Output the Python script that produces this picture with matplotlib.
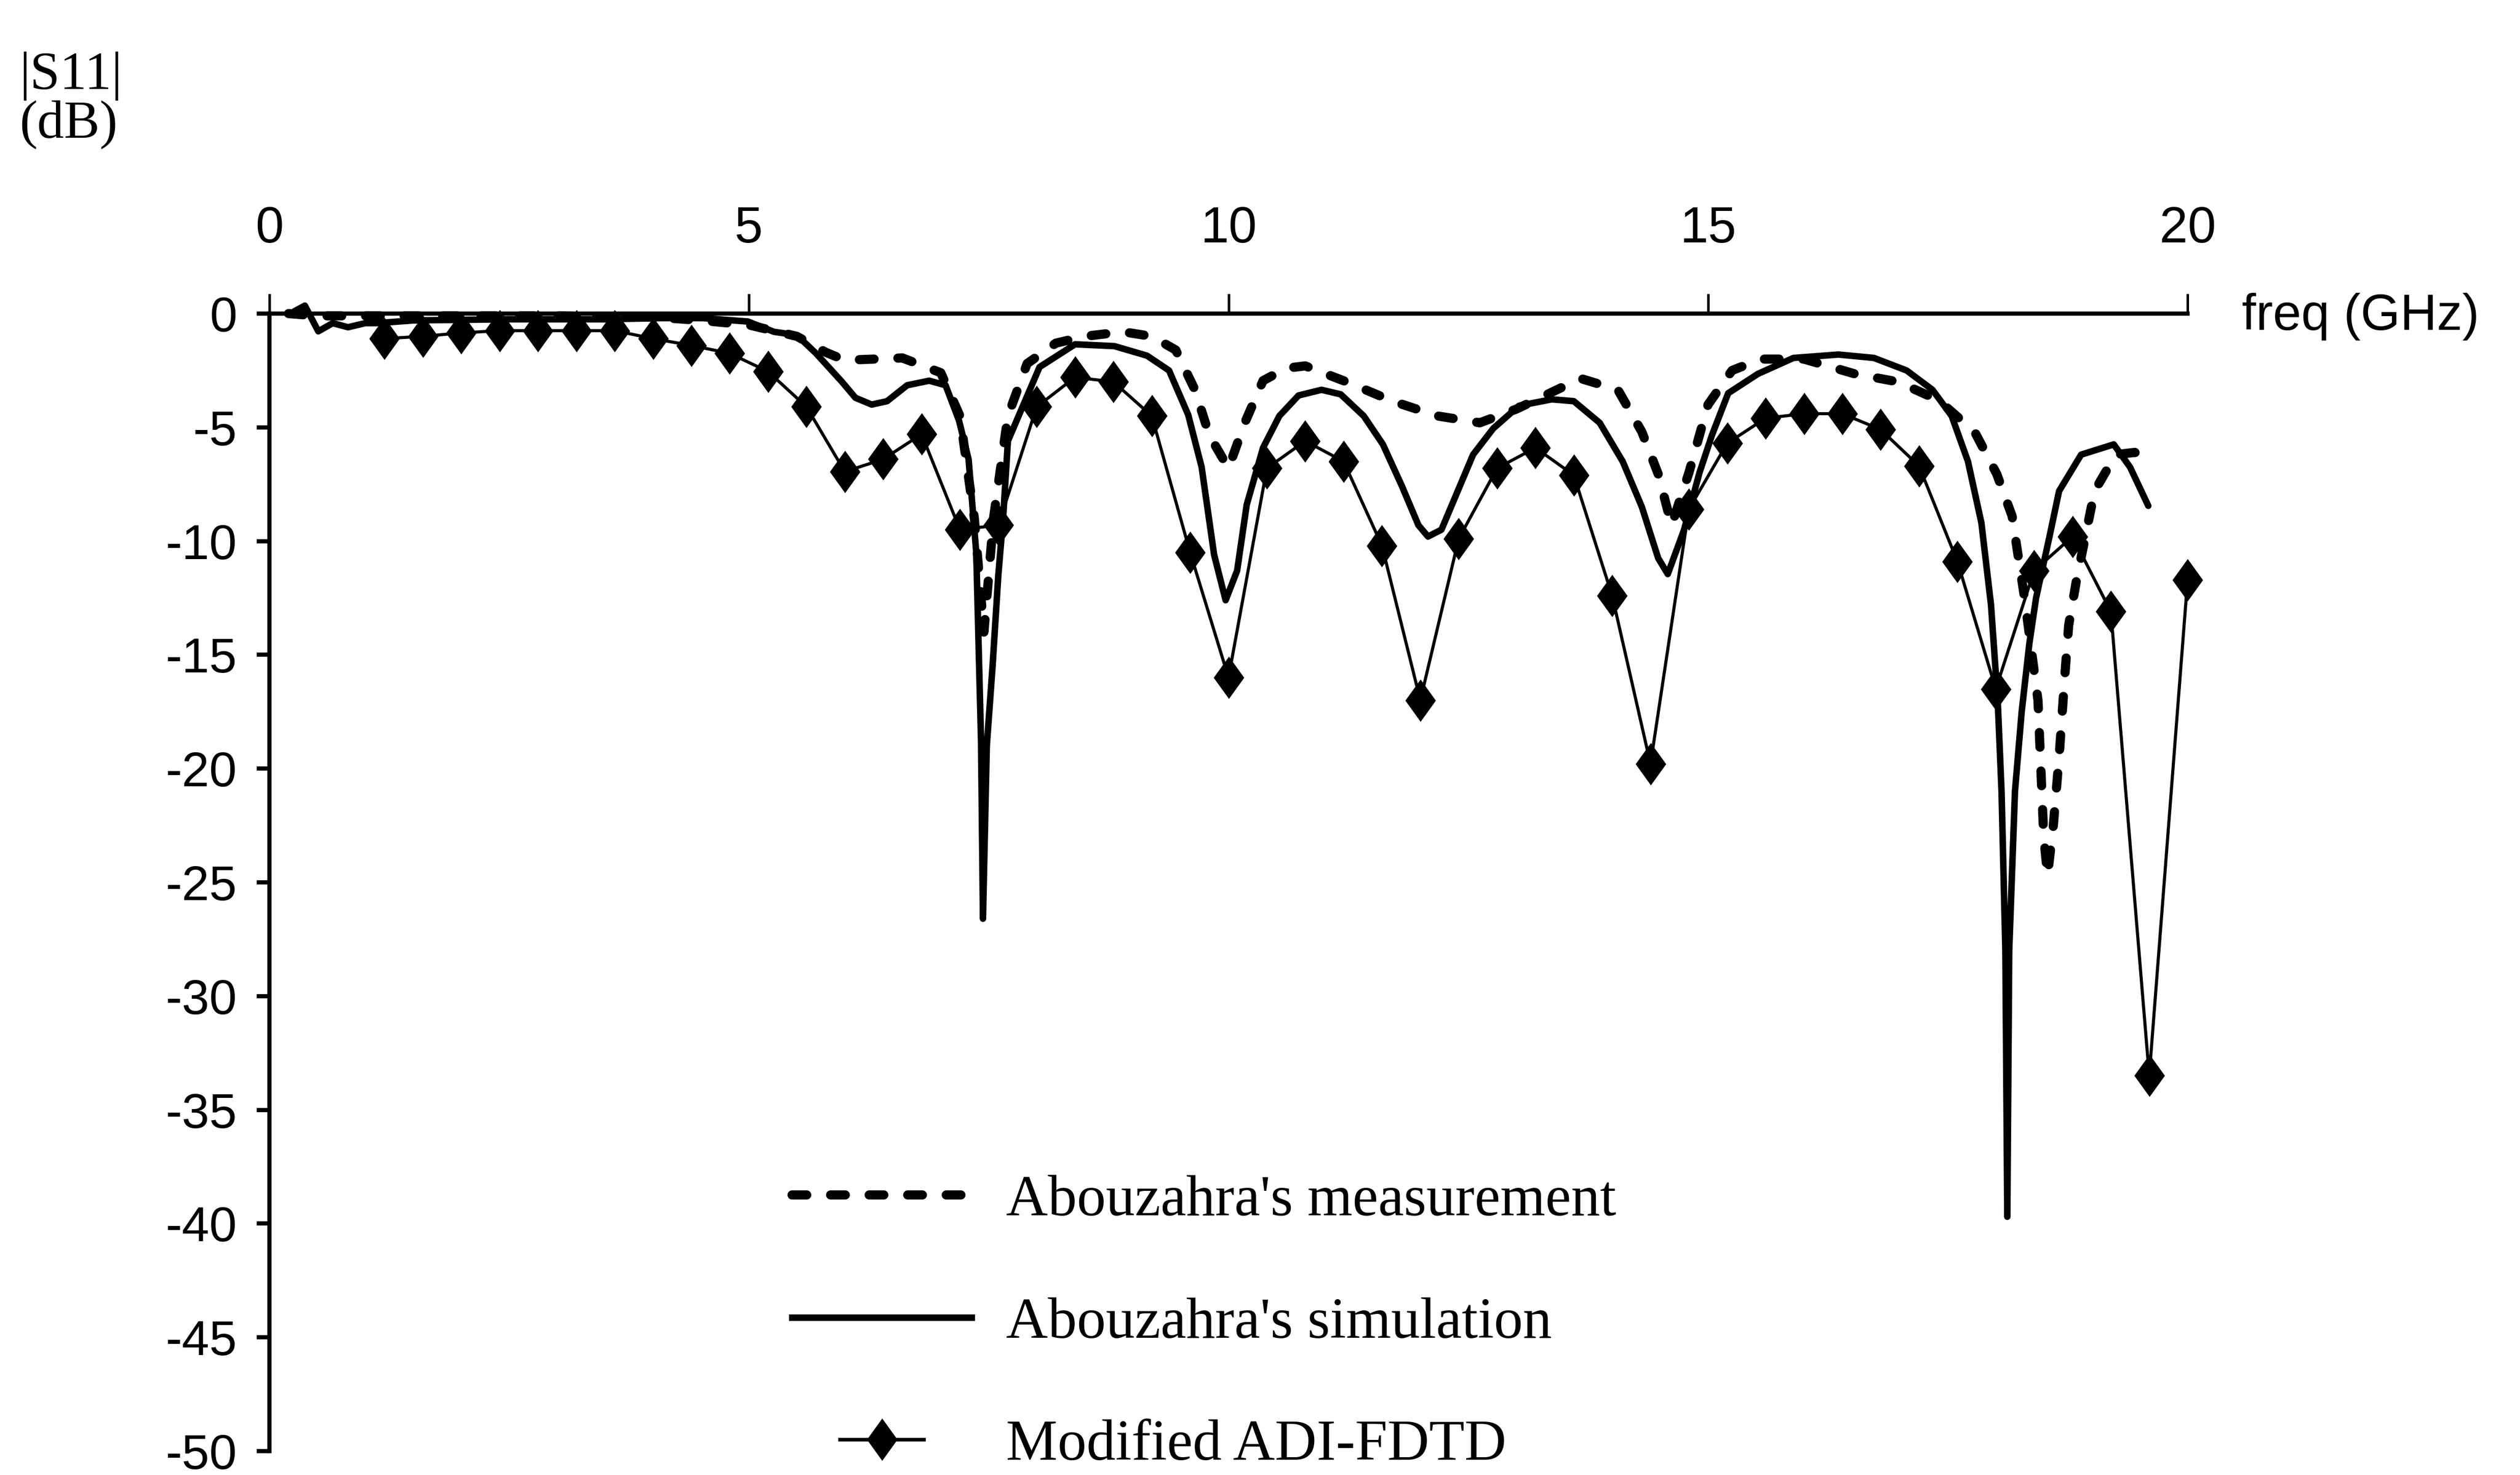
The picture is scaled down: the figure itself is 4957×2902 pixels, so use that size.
import matplotlib
matplotlib.use("Agg")
import matplotlib.pyplot as plt
from matplotlib.legend_handler import HandlerLine2D
from matplotlib.lines import Line2D

# ==============================
# Datos
# ==============================
# Modified ADI-FDTD (puntos con rombo)
adi_freq = [1.2, 1.6, 2.0, 2.4, 2.8, 3.2, 3.6, 4.0, 4.4, 4.8,
            5.2, 5.6, 6.0, 6.4, 6.8, 7.2, 7.6, 8.0, 8.4, 8.8,
            9.2, 9.6, 10.0, 10.4, 10.8, 11.2, 11.6, 12.0, 12.4, 12.8,
            13.2, 13.6, 14.0, 14.4, 14.8, 15.2, 15.6, 16.0, 16.4, 16.8,
            17.2, 17.6, 18.0, 18.4, 18.8, 19.2, 19.6, 20.0]
adi_s11 = [-1.1, -1.0, -0.85, -0.75, -0.75, -0.75, -0.75, -1.1, -1.4, -1.75,
           -2.55, -4.1, -6.95, -6.4, -5.3, -9.5, -9.3, -4.1, -2.8, -3.0,
           -4.5, -10.5, -16.0, -6.8, -5.6, -6.5, -10.2, -17.0, -9.9, -6.8,
           -5.9, -7.1, -12.4, -19.8, -8.6, -5.7, -4.6, -4.4, -4.4, -5.1,
           -6.7, -10.9, -16.5, -11.3, -9.8, -13.1, -33.5, -11.7]

# Abouzahra's simulation (linea continua)
sim_freq = [0.26, 0.37, 0.51, 0.66, 0.82, 1.0, 1.12, 1.5, 2.5, 3.5,
            4.08, 4.52, 4.99, 5.26, 5.5, 5.7, 5.97, 6.11, 6.28, 6.44,
            6.65, 6.88, 7.05, 7.19, 7.29, 7.37, 7.42, 7.44, 7.48, 7.54,
            7.6, 7.65, 7.7, 8.03, 8.4, 8.81, 9.15, 9.38, 9.58, 9.72,
            9.85, 9.97, 10.09, 10.19, 10.36, 10.53, 10.73, 10.97, 11.17, 11.41,
            11.61, 11.81, 11.98, 12.08, 12.22, 12.35, 12.55, 12.76, 13.03, 13.37,
            13.6, 13.87, 14.11, 14.31, 14.48, 14.58, 14.75, 14.91, 15.04, 15.21,
            15.52, 15.89, 16.36, 16.73, 17.07, 17.34, 17.54, 17.71, 17.85, 17.95,
            18.02, 18.06, 18.1, 18.12, 18.14, 18.2, 18.27, 18.35, 18.42, 18.56,
            18.66, 18.89, 19.23, 19.4, 19.59]
sim_s11 = [0.1, 0.35, -0.78, -0.42, -0.6, -0.42, -0.42, -0.3, -0.25, -0.25,
           -0.2, -0.2, -0.35, -0.8, -0.95, -1.75, -3.0, -3.7, -4.0, -3.85,
           -3.15, -2.95, -3.15, -4.7, -6.4, -10.5, -18.8, -26.6, -19.0, -15.5,
           -11.5, -9.0, -5.6, -2.35, -1.35, -1.43, -1.85, -2.5, -4.45, -6.75,
           -10.6, -12.6, -11.3, -8.4, -5.9, -4.5, -3.6, -3.35, -3.55, -4.5,
           -5.75, -7.6, -9.3, -9.8, -9.5, -8.2, -6.2, -5.05, -4.05, -3.77,
           -3.85, -4.8, -6.5, -8.5, -10.75, -11.45, -9.5, -7.0, -5.35, -3.5,
           -2.65, -1.95, -1.8, -1.95, -2.5, -3.35, -4.5, -6.5, -9.2, -12.8,
           -17.0, -21.0, -28.0, -39.7, -28.0, -21.0, -17.5, -14.5, -12.5, -9.8,
           -7.8, -6.2, -5.75, -6.75, -8.45]

# Abouzahra's measurement (linea discontinua)
meas_freq = [0.2, 0.5, 1.0, 2.0, 3.0, 4.0, 4.5, 5.0, 5.5, 5.8,
             6.0, 6.3, 6.6, 7.0, 7.2, 7.35, 7.45, 7.55, 7.7, 7.9,
             8.2, 8.5, 8.9, 9.2, 9.45, 9.65, 9.8, 10.0, 10.17, 10.36,
             10.6, 10.8, 11.26, 11.71, 12.18, 12.62, 13.0, 13.3, 13.67, 14.06,
             14.31, 14.48, 14.62, 14.8, 15.0, 15.25, 15.55, 16.0, 16.53, 16.98,
             17.4, 17.78, 18.01, 18.17, 18.3, 18.44, 18.5, 18.54, 18.6, 18.66,
             18.72, 18.76, 18.84, 19.03, 19.25, 19.45, 19.56]
meas_s11 = [0.0, -0.1, -0.1, -0.1, -0.1, -0.15, -0.3, -0.5, -1.0, -1.7,
            -2.05, -2.0, -1.95, -2.6, -4.5, -9.0, -14.0, -9.0, -4.5, -2.2,
            -1.3, -1.0, -0.8, -1.0, -1.6, -3.35, -5.35, -6.8, -4.8, -2.95,
            -2.4, -2.3, -3.05, -3.85, -4.5, -4.8, -4.2, -3.6, -2.85, -3.35,
            -5.2, -7.05, -9.3, -7.0, -4.0, -2.5, -2.0, -2.0, -2.65, -3.0,
            -3.8, -5.2, -7.05, -8.9, -12.5, -17.0, -23.0, -24.7, -22.5, -19.5,
            -15.9, -13.7, -11.75, -7.8, -6.2, -6.1, -6.6]

x_ticks = [0, 5, 10, 15, 20]
y_ticks = [0, -5, -10, -15, -20, -25, -30, -35, -40, -45, -50]
y_tick_labels = ['0', '-5', '-10', '-15', '-20', '-25', '-30', '-35', '-40', '-45', '-50']
legend_labels = ["Abouzahra's measurement", "Abouzahra's simulation", "Modified ADI-FDTD"]

# ==============================
# Estilo
# ==============================
plt.rcParams['axes.unicode_minus'] = False
sans = ['Liberation Sans', 'DejaVu Sans']
serif = ['Liberation Serif', 'DejaVu Serif']

diamond = [(0, 1), (0.72, 0), (0, -1), (-0.72, 0), (0, 1)]


class ShortLine(HandlerLine2D):
    # linea de leyenda mas corta, centrada
    def create_artists(self, legend, orig_handle, xdescent, ydescent,
                       width, height, fontsize, trans):
        w = width * 0.47
        xd = xdescent - (width - w) / 2
        return super().create_artists(legend, orig_handle, xd, ydescent,
                                      w, height, fontsize, trans)


fig = plt.figure(figsize=(24.785, 14.51), dpi=200)
ax = fig.add_axes([0.1069, 0.0162, 0.7612, 0.7712])

ax.plot(meas_freq, meas_s11, color='black', lw=6.5, linestyle=(0, (1.6, 2.6)),
        dash_capstyle='round', solid_joinstyle='round', clip_on=False)
ax.plot(sim_freq, sim_s11, color='black', lw=4.6, solid_joinstyle='round',
        solid_capstyle='round', clip_on=False)
ax.plot(adi_freq, adi_s11, color='black', lw=2.2, marker=diamond, markersize=30,
        markeredgewidth=0, clip_on=False)

ax.set_xlim(0, 20)
ax.set_ylim(-50, 0)

for s in ['bottom', 'right']:
    ax.spines[s].set_visible(False)
ax.spines['top'].set_linewidth(3.0)
ax.spines['left'].set_linewidth(3.0)

ax.xaxis.tick_top()
ax.set_xticks(x_ticks)
ax.set_xticklabels([str(t) for t in x_ticks])
ax.tick_params(axis='x', direction='out', length=14, width=1.8, pad=29,
               labelsize=36)
ax.set_yticks(y_ticks)
ax.set_yticklabels(y_tick_labels)
ax.tick_params(axis='y', direction='out', length=9, width=3.0, pad=14,
               labelsize=35)
for lab in ax.get_xticklabels() + ax.get_yticklabels():
    lab.set_family(sans)

fig.text(0.0077, 0.965, "|S11|\n(dB)", ha='left', va='top', fontsize=38,
         family=serif, linespacing=1.0)
fig.text(0.8897, 0.7853, "freq (GHz)", ha='left', va='center', fontsize=36,
         family=sans)

handles = [
    Line2D([], [], color='black', lw=6.5, linestyle=(0, (1.6, 2.6)), dash_capstyle='round'),
    Line2D([], [], color='black', lw=4.6),
    Line2D([], [], color='black', lw=2.6, marker=diamond, markersize=30, markeredgewidth=0),
]
leg = fig.legend(handles, legend_labels, loc='upper left',
                 bbox_to_anchor=(0.3143, 0.2035), frameon=False,
                 prop={'family': serif, 'size': 41}, handlelength=3.1,
                 handletextpad=0.6, labelspacing=1.2, borderpad=0,
                 borderaxespad=0, handler_map={handles[2]: ShortLine(numpoints=1)})

fig.savefig('out.png', dpi=200, facecolor='white')
